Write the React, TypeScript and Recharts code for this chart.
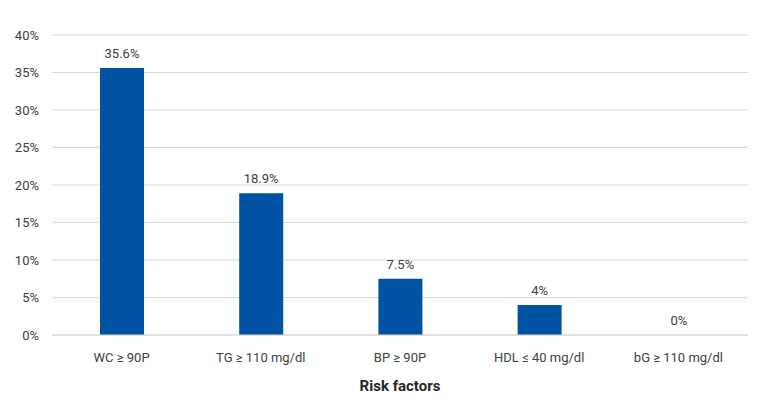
import React from "react";
import {
  Bar,
  BarChart,
  CartesianGrid,
  LabelList,
  XAxis,
  YAxis,
} from "recharts";

const factors = [
  "WC ≥ 90P",
  "TG ≥ 110 mg/dl",
  "BP ≥ 90P",
  "HDL ≤ 40 mg/dl",
  "bG ≥ 110 mg/dl",
];
const percents = [35.6, 18.9, 7.5, 4, 0];
const yTicks = [0, 5, 10, 15, 20, 25, 30, 35, 40];

const data = factors.map((name, i) => ({ name, value: percents[i] }));

const font = "Roboto, 'Noto Sans', sans-serif";

const App = () => {
  return (
    <div style={{ position: "absolute", top: 0, left: 0, fontFamily: font }}>
      <BarChart
        width={770}
        height={419}
        data={data}
        margin={{ top: 35, right: 22, bottom: 20, left: 0 }}
      >
        <CartesianGrid vertical={false} stroke="#d9d9d9" />
        <XAxis
          dataKey="name"
          axisLine={{ stroke: "#d9d9d9" }}
          tickLine={false}
          tick={{ fill: "#404040", fontSize: 13 }}
          tickMargin={12}
          height={64}
          label={{
            value: "Risk factors",
            position: "insideBottom",
            offset: 8,
            fill: "#262626",
            fontSize: 15,
            fontWeight: "bold",
          }}
        />
        <YAxis
          domain={[0, 40]}
          ticks={yTicks}
          tickFormatter={(v) => `${v}%`}
          axisLine={false}
          tickLine={false}
          tick={{ fill: "#404040", fontSize: 13 }}
          tickMargin={7}
          width={52}
        />
        <Bar
          dataKey="value"
          fill="#0052a3"
          barSize={44}
          minPointSize={0.01}
          isAnimationActive={false}
        >
          <LabelList
            dataKey="value"
            position="top"
            offset={10}
            formatter={(v) => `${v}%`}
            fill="#404040"
            fontSize={13}
          />
        </Bar>
      </BarChart>
    </div>
  );
};

export default App;
